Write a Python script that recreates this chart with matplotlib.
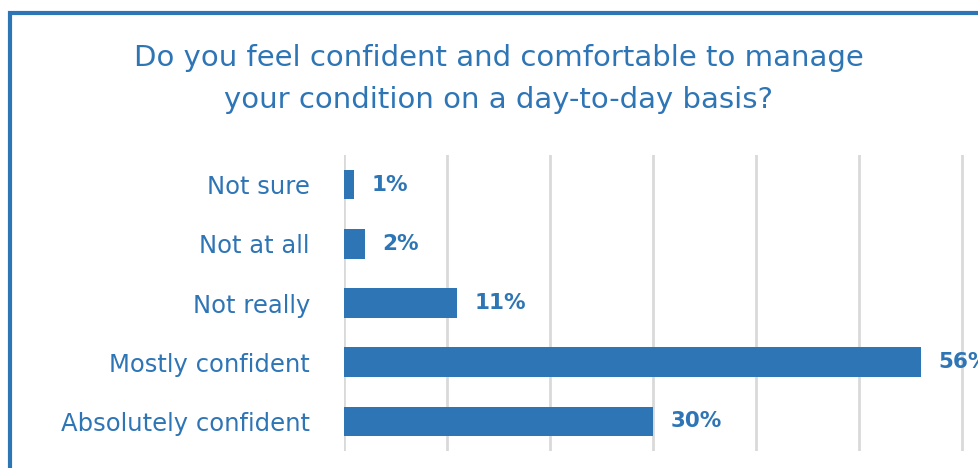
import matplotlib.pyplot as plt
from matplotlib.patches import Rectangle

categories = ['Absolutely confident', 'Mostly confident', 'Not really', 'Not at all', 'Not sure']
values = [30, 56, 11, 2, 1]
title = 'Do you feel confident and comfortable to manage\nyour condition on a day-to-day basis?'

blue = '#2E75B6'
grid = '#D9D9D9'

W, H = 979, 468
fig = plt.figure(figsize=(W / 100, H / 100), dpi=100)
plt.rcParams['font.family'] = ['DejaVu Sans']

# frame around the chart (right and bottom run past the image edge)
fig.patches.append(Rectangle((9.5 / W, -0.1), 1.2, 1.1 - 13.5 / H,
                             transform=fig.transFigure, fill=False,
                             edgecolor=blue, linewidth=3))

# axes: x from 344px to right edge, y from 155px to 451px
ax = fig.add_axes([344 / W, 1 - 451 / H, 1 - 344 / W, (451 - 155) / H])
ax.barh(range(len(categories)), values, height=0.5, color=blue, zorder=3)
ax.set_xlim(0, (W - 344) / 10.3)
ax.set_ylim(-0.5, len(categories) - 0.5)
ax.set_xticks(range(0, 61, 10))
ax.xaxis.grid(True, color=grid, linewidth=2)
ax.tick_params(left=False, bottom=False, labelbottom=False)
ax.set_yticks(range(len(categories)))
ax.set_yticklabels(categories, fontsize=17.5, color=blue)
ax.tick_params(axis='y', pad=21)
for s in ax.spines.values():
    s.set_visible(False)

for i, v in enumerate(values):
    ax.text(v + 1.7, i, f'{v}%', va='center', ha='left', fontsize=15.5,
            fontweight='bold', color=blue, clip_on=False)

fig.text(499 / W, 1 - 79 / H, title, ha='center', va='center', fontsize=21,
         color=blue, linespacing=1.65)

fig.savefig('out.png', dpi=100)
